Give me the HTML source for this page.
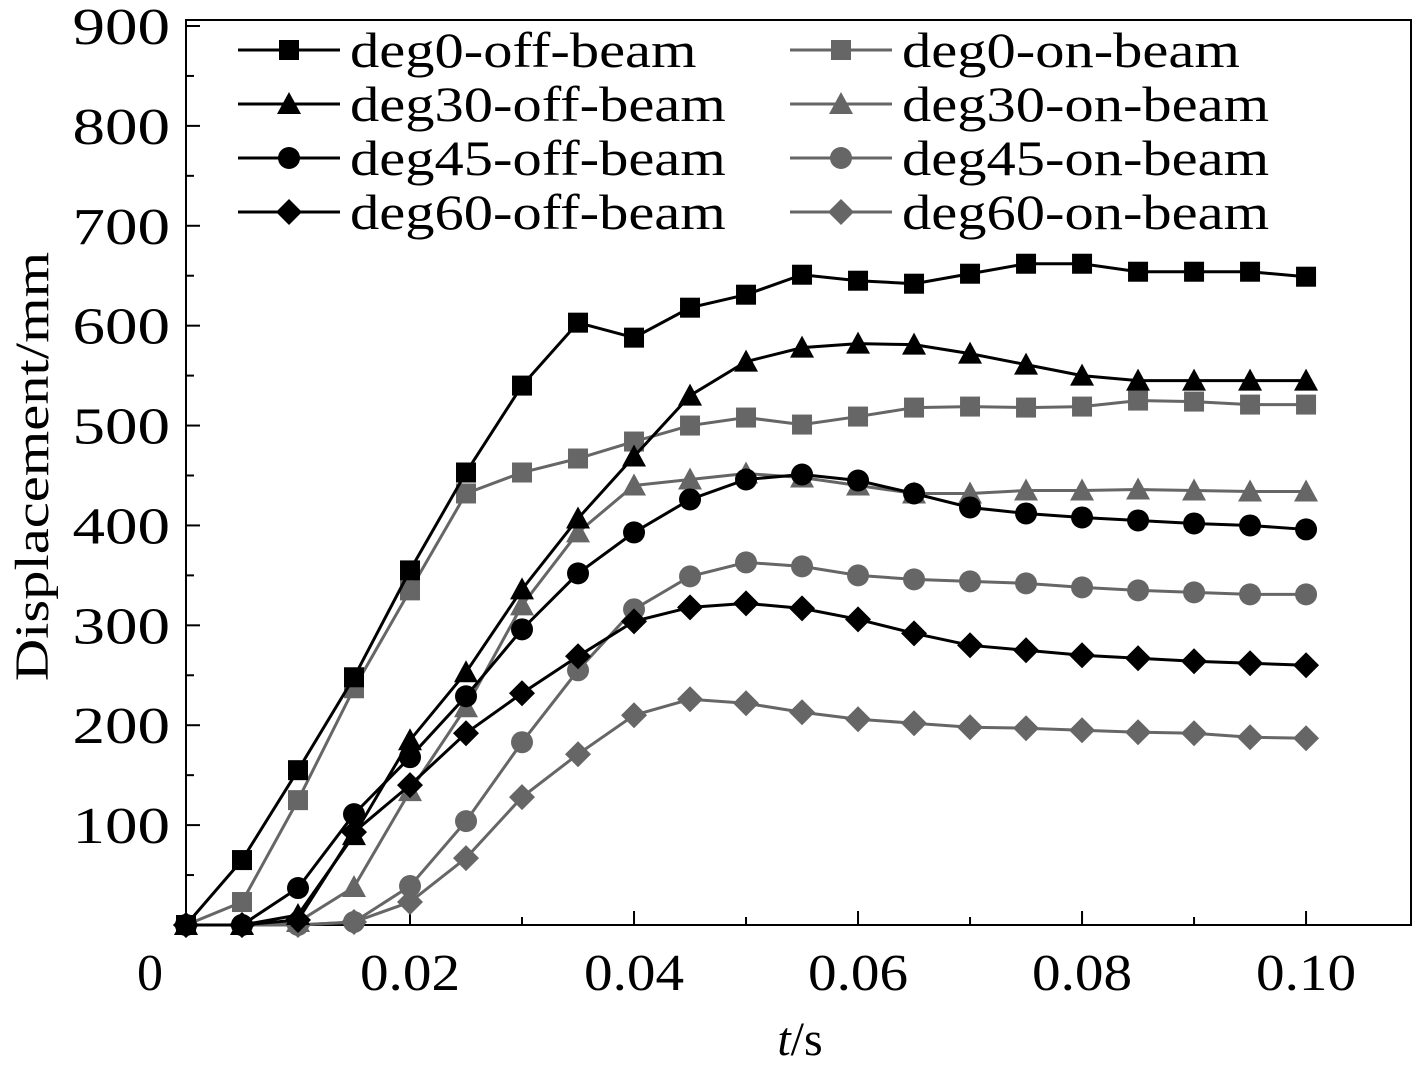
<!DOCTYPE html>
<html><head><meta charset="utf-8"><style>
html,body{margin:0;padding:0;background:#fff;}
svg{display:block;font-family:"Liberation Serif",serif;}
</style></head><body>
<svg id="chart" width="1418" height="1073" xmlns="http://www.w3.org/2000/svg"></svg>
<script>
const times=[0,0.005,0.01,0.015,0.02,0.025,0.03,0.035,0.04,0.045,0.05,0.055,0.06,0.065,0.07,0.075,0.08,0.085,0.09,0.095,0.1];
const deg0Off=[0,65,155,248,355,453,540,603,588,618,631,651,645,642,652,662,662,654,654,654,649];
const deg0On=[0,23,125,237,335,432,453,467,484,500,508,501,509,518,519,518,519,525,524,521,521];
const deg30Off=[0,0,10,90,185,253,336,407,469,530,564,578,582,581,572,561,550,545,545,545,545];
const deg30On=[0,0,3,38,134,218,320,393,440,446,452,448,440,432,432,435,435,436,435,434,434];
const deg45Off=[0,0,37,111,168,229,296,352,393,426,446,451,445,432,418,412,408,405,402,400,396];
const deg45On=[0,0,0,3,39,104,183,255,316,349,363,359,350,346,344,342,338,335,333,331,331];
const deg60Off=[0,0,5,93,140,192,232,269,304,318,322,317,306,292,280,275,270,267,264,262,260];
const deg60On=[0,0,0,3,23,67,128,171,210,226,222,213,206,202,198,197,195,193,192,188,187];
const xTicks=[0.02,0.04,0.06,0.08,0.10];
const xTickLabels=["0.02","0.04","0.06","0.08","0.10"];
const yTicks=[100,200,300,400,500,600,700,800,900];

const NS="http://www.w3.org/2000/svg";
const svg=document.getElementById('chart');
const L=186,R=1411,T=20,B=925;
const xMax=0.10937,yMax=906;
const X=v=>L+v/xMax*(R-L);
const Y=v=>B-v/yMax*(B-T);
function mk(tag,attrs,parent){const e=document.createElementNS(NS,tag);for(const k in attrs)e.setAttribute(k,attrs[k]);(parent||svg).appendChild(e);return e;}
function stretch(t,f){const n=t.getComputedTextLength();t.setAttribute('textLength',n*f);t.setAttribute('lengthAdjust','spacingAndGlyphs');}
function marker(g,shape,x,y,color){
  let e;
  if(shape==='square')e=mk('rect',{x:x-10,y:y-10,width:20,height:20,fill:color},g);
  else if(shape==='triangle')e=mk('polygon',{points:`${x},${y-12} ${x+12},${y+10} ${x-12},${y+10}`,fill:color},g);
  else if(shape==='circle')e=mk('circle',{cx:x,cy:y,r:11,fill:color},g);
  else e=mk('polygon',{points:`${x},${y-13} ${x+13},${y} ${x},${y+13} ${x-13},${y}`,fill:color},g);
  return e;
}
const frame=mk('rect',{x:L,y:T,width:R-L,height:B-T,fill:'none',stroke:'#000','stroke-width':2});


for(let i=1;i<=10;i++){const v=i*0.01;const t=mk('line',{x1:X(v),x2:X(v),y1:B,y2:B-(i%2===0?14:8),stroke:'#000','stroke-width':2});

}
xTicks.forEach((v,i)=>{const t=mk('text',{x:X(v),y:990,'text-anchor':'middle','font-size':52});t.textContent=xTickLabels[i];


stretch(t,1.1);});
const z=mk('text',{x:150,y:990,'text-anchor':'middle','font-size':52});z.textContent='0';


for(let v=50;v<=900;v+=50){const t=mk('line',{x1:L,x2:L+(v%100===0?14:8),y1:Y(v),y2:Y(v),stroke:'#000','stroke-width':2});

}
yTicks.forEach(v=>{const t=mk('text',{x:170,y:Y(v)+18,'text-anchor':'end','font-size':52});t.textContent=v;


stretch(t,1.25);});
const yt=mk('text',{x:0,y:0,'text-anchor':'middle','font-size':48,transform:`translate(48,${(T+B)/2-6}) rotate(-90)`});yt.textContent='Displacement/mm';


stretch(yt,1.22);
const xt=mk('text',{x:800,y:1055,'text-anchor':'middle','font-size':48});
xt.innerHTML='<tspan font-style="italic">t</tspan>/s';



const BLK='#000',GRY='#666';
const series=[
 ['deg0-off-beam',deg0Off,'square',BLK],['deg0-on-beam',deg0On,'square',GRY],
 ['deg30-off-beam',deg30Off,'triangle',BLK],['deg30-on-beam',deg30On,'triangle',GRY],
 ['deg45-off-beam',deg45Off,'circle',BLK],['deg45-on-beam',deg45On,'circle',GRY],
 ['deg60-off-beam',deg60Off,'diamond',BLK],['deg60-on-beam',deg60On,'diamond',GRY]];
const order=[1,3,5,7,0,2,4,6];
order.forEach(i=>{const [name,vals,shape,col]=series[i];
  const g=mk('g',{});
  
  
  const p=mk('polyline',{points:vals.map((v,j)=>X(times[j])+','+Y(v)).join(' '),fill:'none',stroke:col,'stroke-width':3},g);
  
  
  vals.forEach((v,j)=>{const m=marker(g,shape,X(times[j]),Y(v),col);
    
    });
});
const lg=mk('g',{});


series.forEach((s,i)=>{const [name,,shape,col]=s;const row=Math.floor(i/2),c=i%2;
  const x0=c?790:238,y0=50+row*54;
  const e=mk('g',{},lg);
  
  
  mk('line',{x1:x0,x2:x0+102,y1:y0,y2:y0,stroke:col,'stroke-width':3},e);
  marker(e,shape,x0+51,y0,col);
  const t=mk('text',{x:x0+112,y:y0+17,'font-size':50},e);t.textContent=name;
  stretch(t,1.17);
});
</script>
</body></html>
